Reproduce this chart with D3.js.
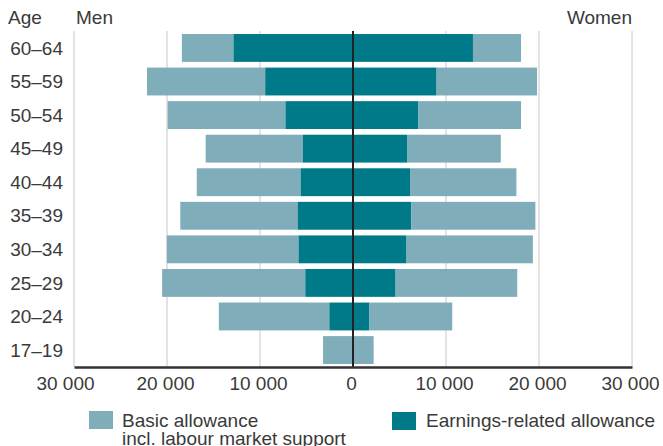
<!DOCTYPE html>
<html>
<head>
<meta charset="utf-8">
<script src="https://cdn.jsdelivr.net/npm/d3@7"></script>
<style>
  body { margin: 0; background: #fff; }
  text { font-family: "Liberation Sans", Arial, sans-serif; fill: #3a3a3a; }
</style>
</head>
<body>
<div id="chart"></div>
<script>
// age groups, top to bottom
const ages = ['60–64', '55–59', '50–54', '45–49', '40–44', '35–39', '30–34', '25–29', '20–24', '17–19'];

// men, earnings-related and basic allowance
const menEarnings = [12850, 9440, 7260, 5400, 5630, 5950, 5860, 5130, 2540, 0];
const menBasic = [5550, 12710, 12670, 10440, 11170, 12620, 14160, 15390, 11890, 3220];

// women
const womenEarnings = [12900, 8990, 7040, 5860, 6130, 6260, 5760, 4580, 1770, 0];
const womenBasic = [5170, 10800, 11030, 10030, 11440, 13350, 13580, 13080, 8900, 2220];

const tickValues = [-30000, -20000, -10000, 0, 10000, 20000, 30000];

const width = 663;
const height = 446;
const fontSize = 19;
const colorBasic = '#7fadb9';
const colorEarnings = '#007a88';

const svg = d3.select('#chart').append('svg')
    .attr('width', width)
    .attr('height', height);

const x = d3.scaleLinear()
    .domain([-30000, 30000])
    .range([74, 632]);

const y = d3.scaleBand()
    .domain(ages)
    .range([31, 367])
    .paddingInner(0.17)
    .paddingOuter(0.09);

const locale = d3.formatLocale({ decimal: ',', thousands: '\u00a0', grouping: [3], currency: ['', ''] });
const fmt = locale.format(',');

// gridlines
svg.append('g')
    .selectAll('line')
    .data(tickValues.filter(d => d !== 0))
    .join('line')
    .attr('x1', d => x(d)).attr('x2', d => x(d))
    .attr('y1', 31).attr('y2', 367)
    .attr('stroke', '#c8c8c8')
    .attr('stroke-width', 1);

// rows built from the arrays
const rows = ages.map((age, i) => ({
    age,
    menE: menEarnings[i], menB: menBasic[i],
    womenE: womenEarnings[i], womenB: womenBasic[i]
}));

const bars = svg.append('g');

// men side (negative direction)
bars.selectAll('rect.menB')
    .data(rows)
    .join('rect')
    .attr('class', 'menB')
    .attr('x', d => x(-(d.menE + d.menB)))
    .attr('width', d => x(-d.menE) - x(-(d.menE + d.menB)))
    .attr('y', d => y(d.age))
    .attr('height', y.bandwidth())
    .attr('fill', colorBasic);

bars.selectAll('rect.menE')
    .data(rows)
    .join('rect')
    .attr('class', 'menE')
    .attr('x', d => x(-d.menE))
    .attr('width', d => x(0) - x(-d.menE))
    .attr('y', d => y(d.age))
    .attr('height', y.bandwidth())
    .attr('fill', colorEarnings);

// women side
bars.selectAll('rect.womenE')
    .data(rows)
    .join('rect')
    .attr('class', 'womenE')
    .attr('x', x(0))
    .attr('width', d => x(d.womenE) - x(0))
    .attr('y', d => y(d.age))
    .attr('height', y.bandwidth())
    .attr('fill', colorEarnings);

bars.selectAll('rect.womenB')
    .data(rows)
    .join('rect')
    .attr('class', 'womenB')
    .attr('x', d => x(d.womenE))
    .attr('width', d => x(d.womenE + d.womenB) - x(d.womenE))
    .attr('y', d => y(d.age))
    .attr('height', y.bandwidth())
    .attr('fill', colorBasic);

// zero line
svg.append('line')
    .attr('x1', x(0)).attr('x2', x(0))
    .attr('y1', 31).attr('y2', 367)
    .attr('stroke', '#222')
    .attr('stroke-width', 2);

// bottom axis
const xAxis = d3.axisBottom(x)
    .tickValues(tickValues)
    .tickSize(0)
    .tickPadding(10)
    .tickFormat(d => fmt(Math.abs(d)));

const gx = svg.append('g')
    .attr('transform', 'translate(0,367)')
    .call(xAxis);
gx.select('.domain').attr('stroke', '#333').attr('stroke-width', 2.5);
gx.selectAll('text')
    .attr('font-size', fontSize)
    .attr('font-family', '"Liberation Sans", Arial, sans-serif')
    .attr('fill', '#3a3a3a')
    .attr('dx', (d, i) => i === 0 ? -9 : -2);

// age labels
svg.append('g')
    .selectAll('text')
    .data(ages)
    .join('text')
    .attr('x', 63)
    .attr('y', d => y(d) + y.bandwidth() / 2)
    .attr('dy', '0.35em')
    .attr('text-anchor', 'end')
    .attr('font-size', fontSize)
    .text(d => d);

// headers
svg.append('text').attr('x', 8).attr('y', 24).attr('font-size', fontSize).text('Age');
svg.append('text').attr('x', 76).attr('y', 24).attr('font-size', fontSize).text('Men');
svg.append('text').attr('x', 632).attr('y', 24).attr('font-size', fontSize).attr('text-anchor', 'end').text('Women');

// legend
const legend = svg.append('g');
legend.append('rect').attr('x', 89).attr('y', 411).attr('width', 24).attr('height', 18).attr('fill', colorBasic);
legend.append('text').attr('x', 122).attr('y', 427).attr('font-size', fontSize).text('Basic allowance');
legend.append('text').attr('x', 122).attr('y', 445).attr('font-size', fontSize).text('incl. labour market support');
legend.append('rect').attr('x', 392).attr('y', 412).attr('width', 24).attr('height', 18).attr('fill', colorEarnings);
legend.append('text').attr('x', 426).attr('y', 427).attr('font-size', fontSize).text('Earnings-related allowance');
</script>
</body>
</html>
